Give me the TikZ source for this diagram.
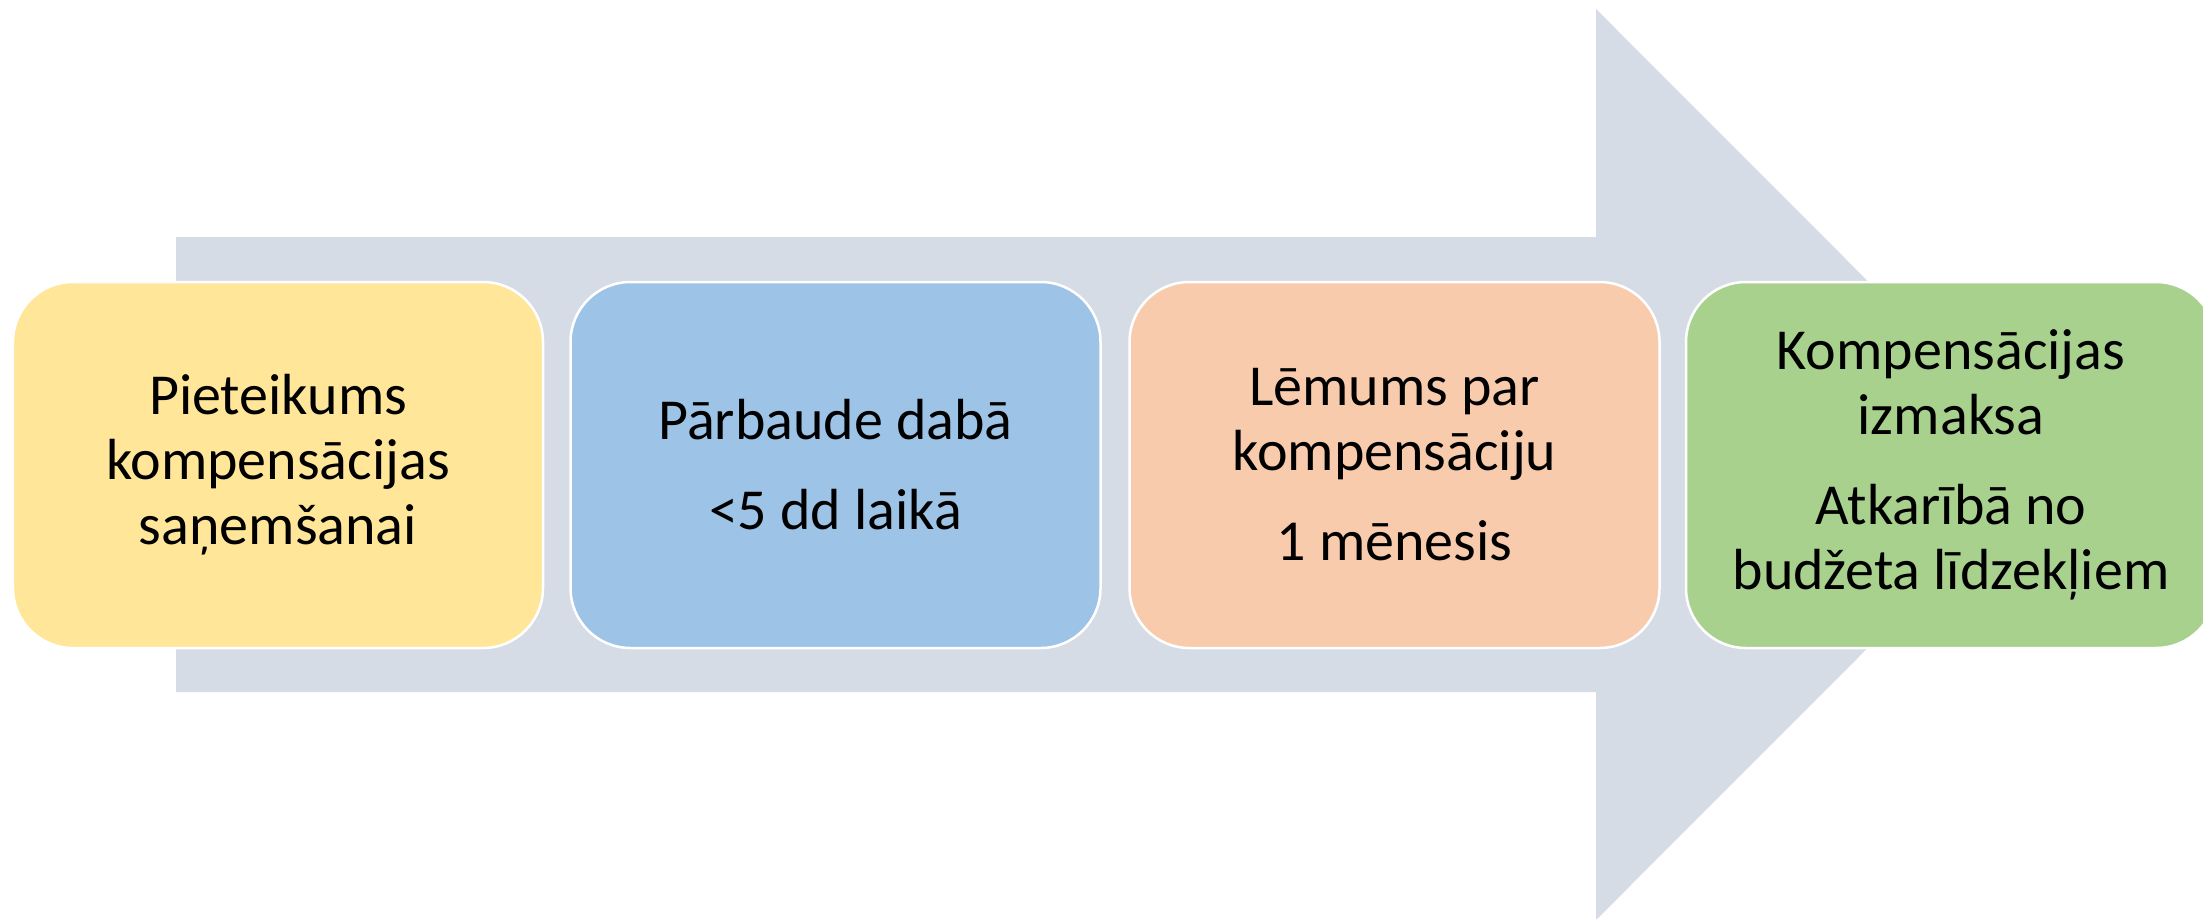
\documentclass[tikz,border=0pt]{standalone}
\usepackage{fontspec}
\setmainfont{Carlito}
\definecolor{arrowgrey}{HTML}{D6DCE5}
\definecolor{boxyellow}{HTML}{FFE699}
\definecolor{boxblue}{HTML}{9DC3E6}
\definecolor{boxorange}{HTML}{F8CBAD}
\definecolor{boxgreen}{HTML}{A9D18E}
\begin{document}
\begin{tikzpicture}[x=1bp,y=-1bp,
  stepbox/.style={rectangle, rounded corners=60bp, minimum width=530bp, minimum height=366bp,
    draw=white, line width=2.5bp, inner sep=0pt, align=center, text=black,
    font=\fontsize{58bp}{65bp}\selectfont}]
\useasboundingbox (0,0) rectangle (2203,918);
\clip (0,0) rectangle (2203,918);
\fill[white] (0,0) rectangle (2203,918);
\fill[arrowgrey] (176,237) -- (1596,237) -- (1596,9) -- (2051,464.5) -- (1596,920) -- (1596,692) -- (176,692) -- cycle;
\node[stepbox, fill=boxyellow] (s1) at (278,465) {Pieteikums\\kompensācijas\\saņemšanai};
\node[stepbox, fill=boxblue] (s2) at (835.5,465) {Pārbaude dabā\\[25bp]<5 dd laikā};
\node[stepbox, fill=boxorange] (s3) at (1394.5,465) {Lēmums par\\kompensāciju\\[25bp]1 mēnesis};
\node[stepbox, fill=boxgreen] (s4) at (1951,465) {Kompensācijas\\izmaksa\\[25bp]Atkarībā no\\budžeta līdzekļiem};
\end{tikzpicture}
\end{document}
